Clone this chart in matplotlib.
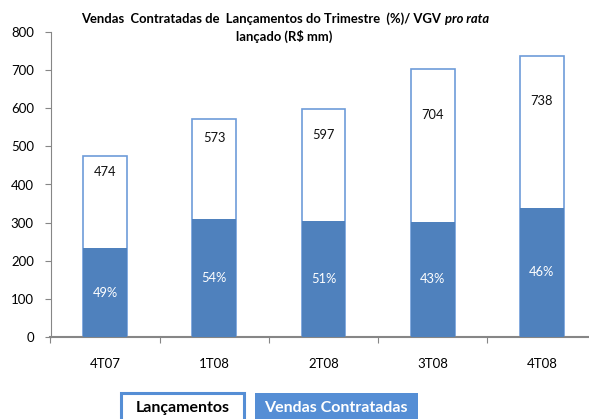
import matplotlib
matplotlib.use('Agg')
import matplotlib.pyplot as plt
from matplotlib.patches import Rectangle
import numpy as np

plt.rcParams['font.family'] = ['Lato', 'DejaVu Sans']

quarters = ['4T07', '1T08', '2T08', '3T08', '4T08']
launched = [474, 573, 597, 704, 738]      # VGV pro rata lançado (R$ mm)
sold_pct = [49, 54, 51, 43, 46]           # % vendido dos lançamentos

launched = np.array(launched)
sold = launched * np.array(sold_pct) / 100.0

edge_blue = '#6E9CD9'
fill_blue = '#4F81BD'
axis_gray = '#868686'

fig = plt.figure(figsize=(5.89, 4.19), dpi=100)
ax = fig.add_axes([50.5 / 589, 1 - 337 / 419, 546 / 589, 305 / 419])

x = np.arange(len(quarters))
w = 0.40
ax.bar(x, launched, width=w, color='white', edgecolor=edge_blue, linewidth=1.2, zorder=2)
ax.bar(x, sold, width=w, color=fill_blue, edgecolor='none', zorder=3)

for i in range(len(quarters)):
    ax.text(x[i], (launched[i] + sold[i]) / 2 + 80, str(launched[i]),
            ha='center', va='center', fontsize=9.3, color='#111111', zorder=4)
    ax.text(x[i], sold[i] / 2, '%d%%' % sold_pct[i],
            ha='center', va='center', fontsize=9.3, color='white', zorder=4)

ax.set_xlim(-0.5, len(quarters) - 0.5)
ax.set_ylim(0, 800)
ax.set_yticks(range(0, 801, 100))

# labels on centers, tick marks on category boundaries
ax.set_xticks(np.arange(-0.5, len(quarters), 1.0))
ax.set_xticklabels([])
ax.set_xticks(x, minor=True)
ax.set_xticklabels(quarters, minor=True)
ax.tick_params(axis='x', which='major', direction='out', length=4, color=axis_gray)
ax.tick_params(axis='x', which='minor', length=0, pad=15, labelsize=9.5)
ax.tick_params(axis='y', direction='out', length=4, color=axis_gray, pad=8, labelsize=9.5)

for s in ['top', 'right']:
    ax.spines[s].set_visible(False)
for s in ['left', 'bottom']:
    ax.spines[s].set_color(axis_gray)
ax.spines['bottom'].set_linewidth(1.5)

# title, with "pro rata" in italic
fig.canvas.draw()
renderer = fig.canvas.get_renderer()
t1 = fig.text(0, 1 - 19 / 419, 'Vendas  Contratadas de  Lançamentos do Trimestre  (%)/ VGV',
              fontsize=9.4, fontweight='bold', va='center', ha='left')
t2 = fig.text(0, 1 - 19 / 419, 'pro rata', fontsize=9.4, fontweight='bold',
              fontstyle='italic', va='center', ha='left')
w1 = t1.get_window_extent(renderer).width
w2 = t2.get_window_extent(renderer).width
gap = 4
x0 = 285 - (w1 + gap + w2) / 2
t1.set_x(x0 / 589)
t2.set_x((x0 + w1 + gap) / 589)
fig.text(284 / 589, 1 - 36 / 419, 'lançado (R$ mm)', fontsize=9.4, fontweight='bold',
         ha='center', va='center')

# legend boxes below the chart
fig.add_artist(Rectangle((121 / 589, 1 - 440 / 419), 123 / 589, 47 / 419,
                         transform=fig.transFigure, facecolor='white',
                         edgecolor='#558ED5', linewidth=2.2))
fig.text(183 / 589, 1 - 408 / 419, 'Lançamentos', fontsize=11.5, fontweight='bold',
         ha='center', va='center', color='black')
fig.add_artist(Rectangle((255 / 589, 1 - 440 / 419), 163 / 589, 47 / 419,
                         transform=fig.transFigure, facecolor='#558ED5',
                         edgecolor='none'))
fig.text(336 / 589, 1 - 408 / 419, 'Vendas Contratadas', fontsize=11.5, fontweight='bold',
         ha='center', va='center', color='white')

fig.savefig('out.png', dpi=100)
